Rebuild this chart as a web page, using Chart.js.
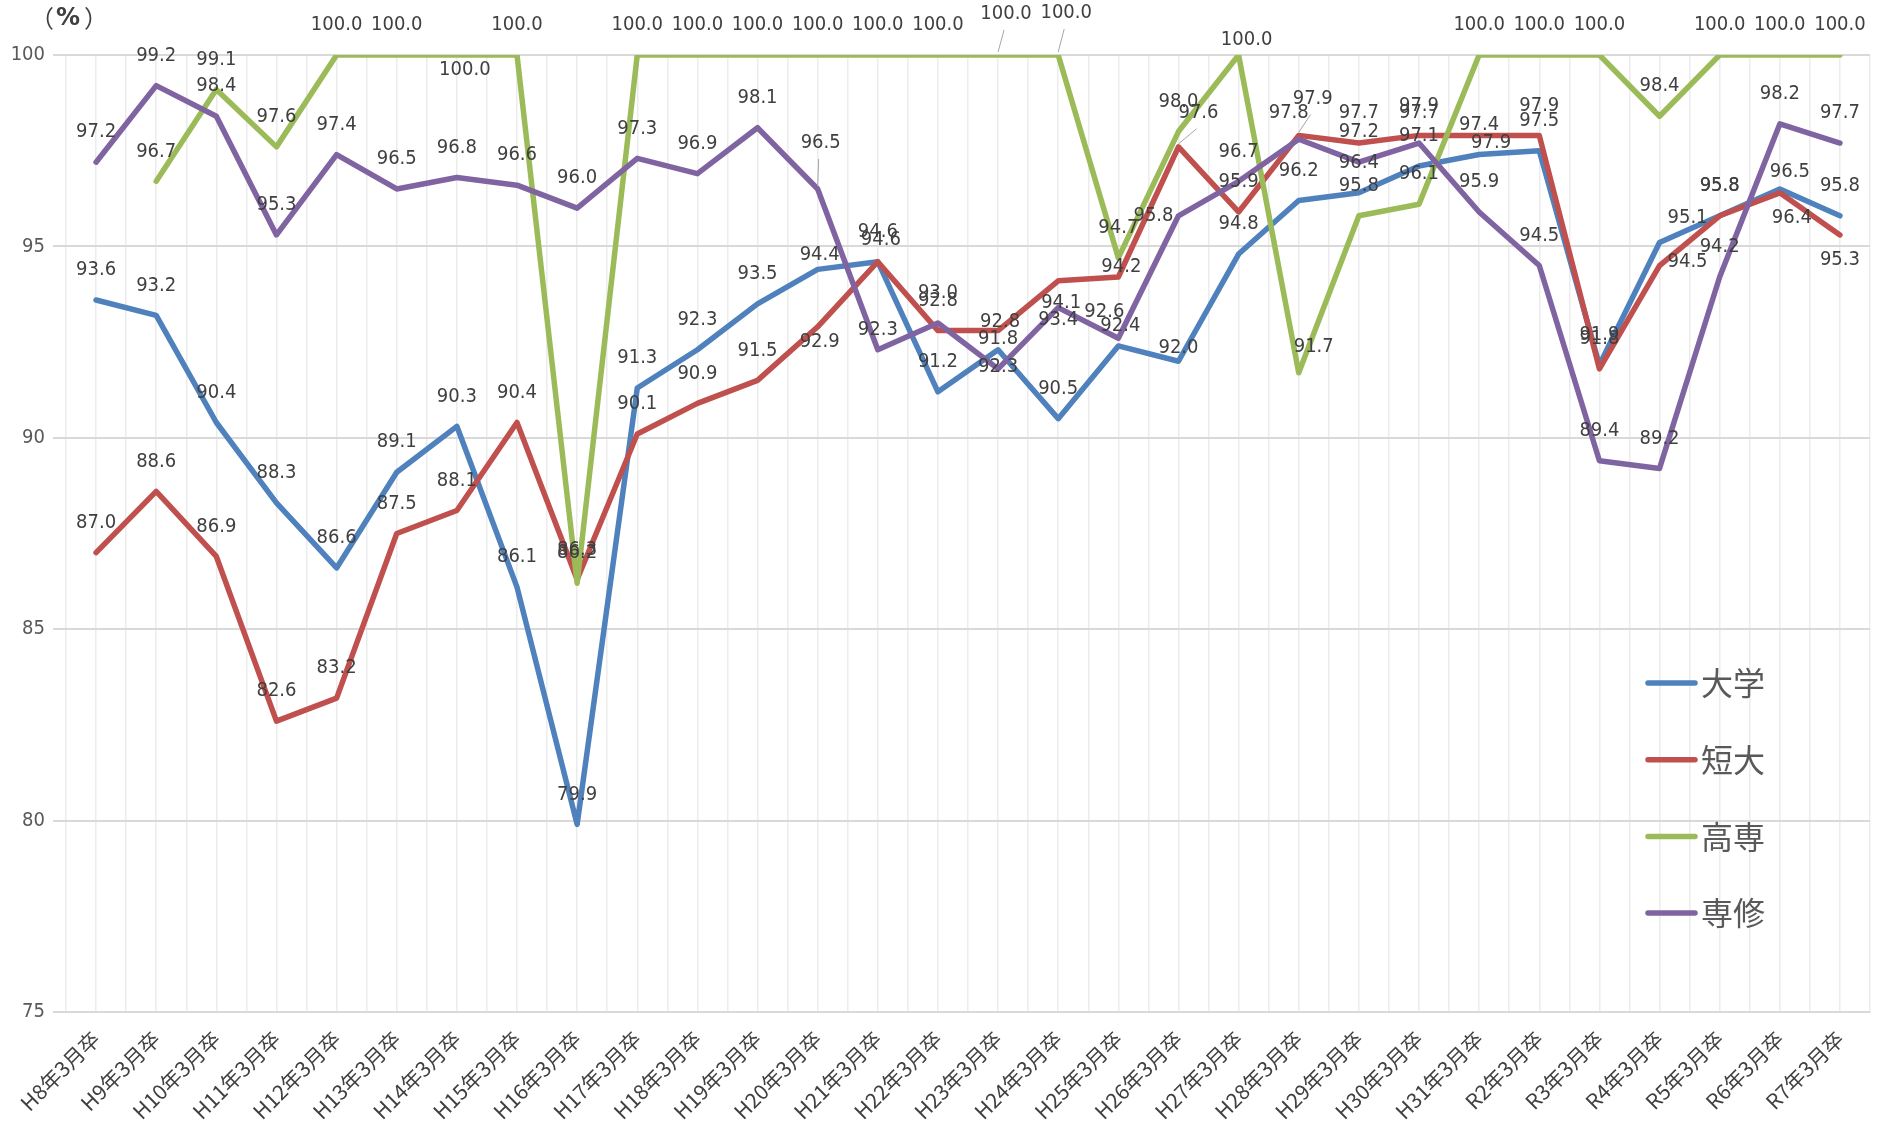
<!DOCTYPE html>
<html><head><meta charset="utf-8">
<script src="https://cdn.jsdelivr.net/npm/chart.js@4/dist/chart.umd.min.js"></script>
<style>html,body{margin:0;background:#fff}canvas{display:block}</style>
</head><body>
<canvas id="c" width="1879" height="1127"></canvas>
<script>
// categories and series values (%)
var categories=['H8年3月卒','H9年3月卒','H10年3月卒','H11年3月卒','H12年3月卒','H13年3月卒','H14年3月卒','H15年3月卒','H16年3月卒','H17年3月卒',
 'H18年3月卒','H19年3月卒','H20年3月卒','H21年3月卒','H22年3月卒','H23年3月卒','H24年3月卒','H25年3月卒','H26年3月卒','H27年3月卒',
 'H28年3月卒','H29年3月卒','H30年3月卒','H31年3月卒','R2年3月卒','R3年3月卒','R4年3月卒','R5年3月卒','R6年3月卒','R7年3月卒'];
var daigaku=[93.6,93.2,90.4,88.3,86.6,89.1,90.3,86.1,79.9,91.3,92.3,93.5,94.4,94.6,91.2,92.3,90.5,92.4,92.0,94.8,96.2,96.4,97.1,97.4,97.5,91.9,95.1,95.8,96.5,95.8];
var tandai=[87.0,88.6,86.9,82.6,83.2,87.5,88.1,90.4,86.3,90.1,90.9,91.5,92.9,94.6,92.8,92.8,94.1,94.2,97.6,95.9,97.9,97.7,97.9,97.9,97.9,91.8,94.5,95.8,96.4,95.3];
var kosen=[null,96.7,99.1,97.6,100.0,100.0,100.0,100.0,86.2,100.0,100.0,100.0,100.0,100.0,100.0,100.0,100.0,94.7,98.0,100.0,91.7,95.8,96.1,100.0,100.0,100.0,98.4,100.0,100.0,100.0];
var senshu=[97.2,99.2,98.4,95.3,97.4,96.5,96.8,96.6,96.0,97.3,96.9,98.1,96.5,92.3,93.0,91.8,93.4,92.6,95.8,96.7,97.8,97.2,97.7,95.9,94.5,89.4,89.2,94.2,98.2,97.7];
var seriesNames=['大学','短大','高専','専修'];
var yTicks=[75,80,85,90,95,100];

// label nudges (dx, dy, leader) where the reference moved a value label
var nudge={
 '大学':{12:[2,-15],15:[0,17],17:[2,-20],18:[0,-13],26:[28,-25],28:[10,-17]},
 '短大':{12:[2,15],13:[3,-22],15:[2,-9],16:[3,22],17:[3,-10],18:[20,-34,1],20:[14,-37,1],23:[12,7],26:[28,-4],28:[12,25],29:[0,25]},
 '高専':{6:[8,15],15:[8,-41,1],16:[8,-42,1],19:[8,-15],20:[15,-26]},
 '専修':{12:[3,-46,1],13:[0,-20],16:[0,12],17:[-14,-26],18:[-25,0],20:[-10,-26]}
};
var NUM='"Liberation Sans Narrow","DejaVu Sans Condensed",sans-serif';
var JP='"Noto Sans CJK JP",sans-serif';

var valueLabels={id:'valueLabels',afterDatasetsDraw:function(ch){
  var ctx=ch.ctx;ctx.save();
  ctx.font='20px '+NUM;ctx.fillStyle='#404040';ctx.textAlign='center';ctx.textBaseline='middle';
  ch.data.datasets.forEach(function(ds,i){
    var meta=ch.getDatasetMeta(i);
    meta.data.forEach(function(p,j){
      var v=ds.data[j];if(v==null)return;
      var m=(nudge[ds.label]||{})[j]||[0,-30];
      var x=p.x+m[0],y=p.y+m[1];
      if(m[2]){ctx.strokeStyle='#a6a6a6';ctx.lineWidth=1;ctx.beginPath();ctx.moveTo(p.x,p.y-3);ctx.lineTo(x-2,y+16);ctx.stroke();}
      ctx.fillText(v.toFixed(1),x,y);
    });
  });
  ctx.restore();
}};

var legendBox={id:'legendBox',afterDraw:function(ch){
  var ctx=ch.ctx;ctx.save();
  ch.data.datasets.forEach(function(ds,i){
    var y=683+i*76.7;
    ctx.strokeStyle=ds.borderColor;ctx.lineWidth=5.5;ctx.lineCap='round';
    ctx.beginPath();ctx.moveTo(1648,y);ctx.lineTo(1695,y);ctx.stroke();
    ctx.fillStyle='#595959';ctx.font='32px '+JP;ctx.textBaseline='middle';ctx.textAlign='left';
    ctx.fillText(ds.label,1701,y);
  });
  // unit mark（%）
  ctx.fillStyle='#404040';ctx.textBaseline='middle';
  ctx.font='24px '+JP;ctx.textAlign='right';ctx.fillText('（',54,18);
  ctx.font='bold 24px "DejaVu Sans",sans-serif';ctx.textAlign='center';ctx.fillText('%',68,19);
  ctx.font='24px '+JP;ctx.textAlign='left';ctx.fillText('）',84,18);
  ctx.restore();
}};

function line(label,data,color,order){
  return {label:label,data:data,borderColor:color,backgroundColor:color,borderWidth:5.5,pointRadius:0,
    tension:0,spanGaps:false,borderJoinStyle:'round',borderCapStyle:'round',order:order};
}

new Chart(document.getElementById('c').getContext('2d'),{
  type:'line',
  data:{labels:categories,datasets:[
    line(seriesNames[0],daigaku,'#4f81bd',4),
    line(seriesNames[1],tandai,'#c0504d',3),
    line(seriesNames[2],kosen,'#9bbb59',2),
    line(seriesNames[3],senshu,'#8064a2',1)
  ]},
  options:{
    responsive:false,animation:false,
    layout:{padding:{top:55,right:9,left:0,bottom:0}},
    plugins:{legend:{display:false},tooltip:{enabled:false}},
    scales:{
      x:{type:'category',offset:true,
        grid:{offset:false,color:'#ececec',lineWidth:1.5,drawTicks:false},
        border:{color:'#d9d9d9',width:2},
        ticks:{autoSkip:false,minRotation:45,maxRotation:45,padding:14,color:'#404040',font:{family:JP,size:21}},
        afterFit:function(s){s.height=115;}},
      x2:{type:'category',position:'top',offset:true,
        grid:{offset:true,color:'#ececec',lineWidth:1.5,drawTicks:false},
        border:{display:false},ticks:{display:false},
        afterFit:function(s){s.height=0;}},
      y:{min:yTicks[0],max:yTicks[yTicks.length-1],
        afterBuildTicks:function(s){s.ticks=yTicks.map(function(v){return {value:v};});},
        ticks:{padding:8,color:'#595959',font:{family:NUM,size:20}},
        grid:{color:'#d9d9d9',lineWidth:2,tickLength:13},
        border:{display:false},
        afterFit:function(s){s.width=66;}}
    }
  },
  plugins:[valueLabels,legendBox]
});
</script>
</body></html>
